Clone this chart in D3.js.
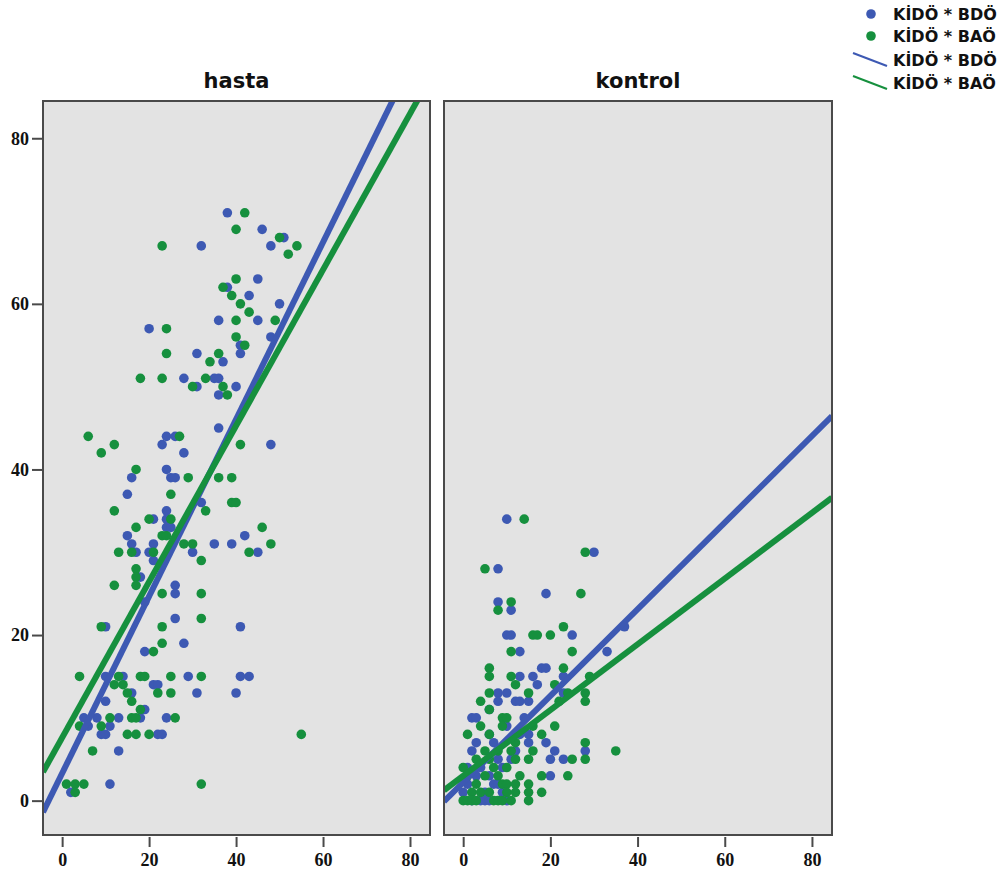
<!DOCTYPE html>
<html><head><meta charset="utf-8">
<script src="https://cdn.jsdelivr.net/npm/d3@7"></script>
<style>body{margin:0;background:#fff}</style>
</head><body>
<svg id="c" width="1002" height="884"></svg>
<script>
// ---------- data ----------
const panelNames = ["hasta", "kontrol"];
const seriesNames = ["KİDÖ * BDÖ", "KİDÖ * BAÖ"];
const xTicks = [0, 20, 40, 60, 80];
const yTicks = [0, 20, 40, 60, 80];

// hasta: KİDÖ (x) vs BDÖ (y)
const hastaBDO = [
 [38,71],[46,69],[51,68],[48,67],[32,67],[45,63],[38,62],[43,61],[50,60],[36,58],[45,58],[20,57],
 [48,56],[41,55],[41,54],[31,54],[37,53],[28,51],[35,51],[36,51],[31,50],[40,50],[36,49],
 [36,45],[24,44],[26,44],[23,43],[48,43],[28,42],[24,40],[16,39],[25,39],[26,39],[15,37],[32,36],
 [24,35],[21,34],[24,34],[24,33],[25,33],[15,32],[42,32],[16,31],[21,31],[35,31],[39,31],[17,30],
 [20,30],[30,30],[45,30],[21,29],[18,27],[26,26],[26,25],[19,24],[26,22],[10,21],[41,21],[28,19],
 [19,18],[10,15],[14,15],[29,15],[41,15],[43,15],[21,14],[22,14],[16,13],[31,13],[40,13],[10,12],
 [19,11],[8,10],[5,10],[13,10],[18,10],[24,10],[6,9],[11,9],[9,8],[10,8],[22,8],[23,8],[13,6],
 [11,2],[2,1]
];
// hasta: KİDÖ (x) vs BAÖ (y)
const hastaBAO = [
 [42,71],[40,69],[50,68],[54,67],[52,66],[23,67],[40,63],[37,62],[39,61],[41,60],[43,59],[40,58],
 [49,58],[24,57],[40,56],[42,55],[24,54],[36,54],[34,53],[18,51],[23,51],[33,51],[30,50],[37,50],
 [38,49],[6,44],[27,44],[12,43],[41,43],[9,42],[17,40],[29,39],[36,39],[39,39],[25,37],[39,36],
 [40,36],[12,35],[33,35],[20,34],[25,34],[17,33],[46,33],[23,32],[24,32],[28,31],[30,31],[48,31],
 [13,30],[16,30],[21,30],[43,30],[32,29],[17,28],[17,27],[12,26],[17,26],[23,25],[32,25],[32,22],
 [9,21],[23,21],[23,19],[21,18],[4,15],[13,15],[18,15],[19,15],[25,15],[32,15],[12,14],[14,14],
 [15,13],[22,13],[25,13],[16,12],[18,11],[11,10],[16,10],[17,10],[26,10],[4,9],[9,9],[15,8],[17,8],
 [20,8],[55,8],[7,6],[1,2],[3,2],[5,2],[32,2],[3,1]
];
// kontrol: KİDÖ (x) vs BDÖ (y)
const kontrolBDO = [
 [10,34],[30,30],[8,28],[19,25],[8,24],[11,23],[10,20],[11,20],[25,20],[37,21],[13,18],[33,18],
 [18,16],[19,16],[13,15],[16,15],[23,15],[17,14],[8,13],[10,13],[23,13],[8,12],[12,12],[13,12],
 [15,12],[2,10],[3,10],[10,9],[6,8],[15,8],[3,7],[15,7],[19,7],[2,6],[21,6],[28,6],[12,6],[8,5],
 [11,5],[20,5],[23,5],[1,4],[4,4],[3,3],[6,3],[20,3],[1,2],[7,2],[8,2],[0,1],[5,1],[9,1],[2,0],
 [4,0],[5,0],[6,0],[10,0],[14,10],[7,7],[9,4],[13,8],[6,11]
];
// kontrol: KİDÖ (x) vs BAÖ (y)
const kontrolBAO = [
 [14,34],[28,30],[5,28],[27,25],[11,24],[8,23],[23,21],[16,20],[17,20],[20,20],[11,18],[25,18],
 [6,16],[23,16],[6,15],[11,15],[29,15],[12,14],[21,14],[6,13],[15,13],[24,13],[28,13],[4,12],
 [22,12],[28,12],[6,11],[9,10],[10,10],[4,9],[9,9],[16,9],[21,9],[1,8],[6,8],[18,8],[12,7],[28,7],
 [5,6],[8,6],[11,6],[16,6],[35,6],[3,5],[6,5],[12,5],[15,5],[25,5],[28,5],[0,4],[7,4],[10,4],
 [1,3],[5,3],[8,3],[13,3],[18,3],[24,3],[3,2],[9,2],[10,2],[12,2],[15,2],[2,1],[4,1],[6,1],[10,1],
 [12,1],[15,1],[18,1],[0,0],[1,0],[2,0],[3,0],[7,0],[8,0],[9,0],[11,0],[15,0]
];
// fitted lines [intercept, slope] : BDÖ, BAÖ
const hastaFit = [[3.3, 1.069], [7.6, 0.942]];
const kontrolFit = [[2.2, 0.523], [3.0, 0.397]];

// ---------- drawing ----------
const colors = ["#3D59B3", "#16903E"];
const svg = d3.select("#c");
const plotTop = 101, plotBottom = 835;
const panelRanges = [[43, 430], [444, 832]];
const xDomain = [-4.4, 84.6], yDomain = [-4.15, 84.5];
const panelPoints = [[hastaBDO, hastaBAO], [kontrolBDO, kontrolBAO]];
const panelFits = [hastaFit, kontrolFit];

const y = d3.scaleLinear().domain(yDomain).range([plotBottom, plotTop]);

panelNames.forEach((name, i) => {
  const [x0, x1] = panelRanges[i];
  const x = d3.scaleLinear().domain(xDomain).range([x0, x1]);
  const g = svg.append("g");
  g.append("rect").attr("x", x0).attr("y", plotTop).attr("width", x1 - x0).attr("height", plotBottom - plotTop)
    .attr("fill", "#E3E3E3");
  const clipId = "clip" + i;
  svg.append("clipPath").attr("id", clipId).append("rect")
    .attr("x", x0).attr("y", plotTop).attr("width", x1 - x0).attr("height", plotBottom - plotTop);
  const inner = g.append("g").attr("clip-path", `url(#${clipId})`);
  panelPoints[i].forEach((pts, s) => {
    inner.append("g").selectAll("circle").data(pts).join("circle")
      .attr("cx", d => x(d[0])).attr("cy", d => y(d[1])).attr("r", 4.8)
      .attr("fill", colors[s]);
  });
  panelFits[i].forEach((f, s) => {
    const line = d3.line().x(d => x(d)).y(d => y(f[0] + f[1] * d));
    inner.append("path").datum(xDomain).attr("d", line)
      .attr("stroke", colors[s]).attr("stroke-width", 6).attr("fill", "none");
  });
  g.append("rect").attr("x", x0).attr("y", plotTop).attr("width", x1 - x0).attr("height", plotBottom - plotTop)
    .attr("fill", "none").attr("stroke", "#4a4a4a").attr("stroke-width", 2);
  // title
  svg.append("text").attr("x", (x0 + x1) / 2).attr("y", 88).attr("text-anchor", "middle")
    .attr("font-family", "DejaVu Sans").attr("font-weight", "bold").attr("font-size", 21)
    .attr("fill", "#111").text(name);
  // x axis
  const xa = svg.append("g").attr("transform", `translate(0,${plotBottom + 2})`)
    .call(d3.axisBottom(x).tickValues(xTicks).tickSize(10).tickPadding(6).tickFormat(d3.format("d")));
  xa.select(".domain").remove();
  xa.selectAll("line").attr("stroke", "#4a4a4a").attr("stroke-width", 2);
  xa.selectAll("text").attr("font-family", "Liberation Serif").attr("font-weight", "bold")
    .attr("font-size", 18).attr("fill", "#111");
  if (i === 0) {
    const ya = svg.append("g").attr("transform", `translate(${x0 - 1},0)`)
      .call(d3.axisLeft(y).tickValues(yTicks).tickSize(10).tickPadding(3).tickFormat(d3.format("d")));
    ya.select(".domain").remove();
    ya.selectAll("line").attr("stroke", "#4a4a4a").attr("stroke-width", 2);
    ya.selectAll("text").attr("font-family", "Liberation Serif").attr("font-weight", "bold")
      .attr("font-size", 18).attr("fill", "#111");
  }
});

// legend
const leg = svg.append("g");
const legRows = [
  {type: "point", s: 0, y: 14}, {type: "point", s: 1, y: 36},
  {type: "line", s: 0, y: 60}, {type: "line", s: 1, y: 83}
];
legRows.forEach(r => {
  if (r.type === "point") {
    leg.append("circle").attr("cx", 871).attr("cy", r.y).attr("r", 4.8).attr("fill", colors[r.s]);
  } else {
    leg.append("line").attr("x1", 853).attr("y1", r.y - 7).attr("x2", 887).attr("y2", r.y + 6)
      .attr("stroke", colors[r.s]).attr("stroke-width", 2);
  }
  leg.append("text").attr("x", 893).attr("y", r.y).attr("dy", "0.36em")
    .attr("font-family", "DejaVu Sans").attr("font-weight", "bold").attr("font-size", 16)
    .attr("fill", "#111").text(seriesNames[r.s]);
});
</script>
</body></html>
